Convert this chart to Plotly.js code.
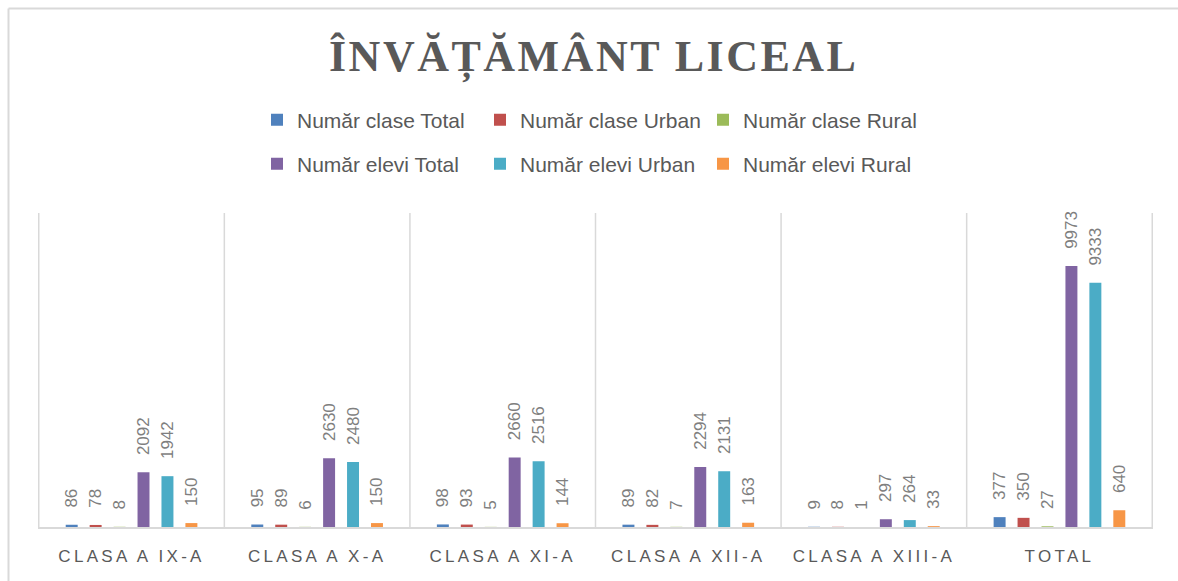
<!DOCTYPE html>
<html>
<head>
<meta charset="utf-8">
<script src="https://cdn.plot.ly/plotly-3.0.1.min.js"></script>
<style>
  html, body { margin: 0; padding: 0; background: #fff; }
  #chart { width: 1178px; height: 581px; }
  #chart .xtick text { letter-spacing: 3.3px; }
  #chart .gtitle { letter-spacing: 2.5px; }
</style>
</head>
<body>
<div id="chart"></div>
<script>
const categories = ["CLASA A IX-A", "CLASA A X-A", "CLASA A XI-A", "CLASA A XII-A", "CLASA A XIII-A", "TOTAL"];
const seriesNames = ["Număr clase Total", "Număr clase Urban", "Număr clase Rural", "Număr elevi Total", "Număr elevi Urban", "Număr elevi Rural"];
const claseTotal = [86, 95, 98, 89, 9, 377];
const claseUrban = [78, 89, 93, 82, 8, 350];
const claseRural = [8, 6, 5, 7, 1, 27];
const eleviTotal = [2092, 2630, 2660, 2294, 297, 9973];
const eleviUrban = [1942, 2480, 2516, 2131, 264, 9333];
const eleviRural = [150, 150, 144, 163, 33, 640];
const colors = ["#4f81bd", "#c0504d", "#9bbb59", "#8064a2", "#4bacc6", "#f79646"];

const seriesValues = [claseTotal, claseUrban, claseRural, eleviTotal, eleviUrban, eleviRural];

const W = 1178, H = 581;
const plotL = 38, plotR = 1153, plotT = 213, plotB = 527;
const pw = plotR - plotL, ph = plotB - plotT;

const traces = seriesValues.map((vals, i) => ({
  type: "bar",
  name: seriesNames[i],
  x: categories,
  y: vals,
  text: vals.map(v => "\u00a0\u00a0\u00a0" + v),
  textposition: "outside",
  textangle: -90,
  constraintext: "none",
  cliponaxis: false,
  textfont: { family: "Liberation Sans, Arial, sans-serif", size: 17, color: "#7f7f7f" },
  marker: { color: colors[i] },
  legend: i < 3 ? "legend" : "legend2",
  hoverinfo: "skip"
}));

const shapes = [];
for (let i = 0; i <= categories.length; i++) {
  shapes.push({
    type: "line", xref: "x", yref: "paper",
    x0: i - 0.5, x1: i - 0.5, y0: 0, y1: 1,
    line: { color: "#d9d9d9", width: 1.5 }
  });
}
// outer chart frame (top + left edge visible)
shapes.push({
  type: "line", xref: "paper", yref: "paper",
  x0: (8.5 - plotL) / pw, x1: (W + 5 - plotL) / pw,
  y0: (plotB - 8.5) / ph, y1: (plotB - 8.5) / ph,
  line: { color: "#d9d9d9", width: 2 }
});
shapes.push({
  type: "line", xref: "paper", yref: "paper",
  x0: (8.5 - plotL) / pw, x1: (8.5 - plotL) / pw,
  y0: (plotB - 8.5) / ph, y1: (plotB - H - 5) / ph,
  line: { color: "#d9d9d9", width: 2 }
});

const legendFont = { family: "Liberation Sans, Arial, sans-serif", size: 21, color: "#595959" };
const legendX = (257 - plotL) / pw;

const layout = {
  width: W, height: H,
  margin: { l: plotL, r: W - plotR, t: plotT, b: H - plotB, pad: 0 },
  paper_bgcolor: "#ffffff",
  plot_bgcolor: "#ffffff",
  title: {
    text: "<b>ÎNVĂȚĂMÂNT LICEAL</b>",
    font: { family: "Liberation Serif, Times New Roman, serif", size: 44, color: "#595959" },
    x: 0.504, xanchor: "center",
    y: 1 - 56 / H, yanchor: "middle", yref: "container"
  },
  barmode: "group",
  bargap: 0.226,
  bargroupgap: 0.5,
  showlegend: true,
  legend: {
    orientation: "h", x: legendX, xanchor: "left",
    y: (plotB - 120) / ph, yanchor: "middle",
    font: legendFont, entrywidth: 178, itemclick: false, itemdoubleclick: false,
    bgcolor: "rgba(0,0,0,0)"
  },
  legend2: {
    orientation: "h", x: legendX, xanchor: "left",
    y: (plotB - 164) / ph, yanchor: "middle",
    font: legendFont, entrywidth: 178, itemclick: false, itemdoubleclick: false,
    bgcolor: "rgba(0,0,0,0)"
  },
  xaxis: {
    type: "category",
    showgrid: false,
    showline: true, linecolor: "#d9d9d9", linewidth: 2,
    ticks: "",
    ticklabelstandoff: 13,
    tickfont: { family: "Liberation Sans, Arial, sans-serif", size: 17, color: "#595959" },
    fixedrange: true
  },
  yaxis: {
    range: [0, 12000],
    visible: false,
    showgrid: false,
    zeroline: false,
    fixedrange: true
  },
  shapes: shapes
};

Plotly.newPlot("chart", traces, layout, { displayModeBar: false, staticPlot: true });
</script>
</body>
</html>
